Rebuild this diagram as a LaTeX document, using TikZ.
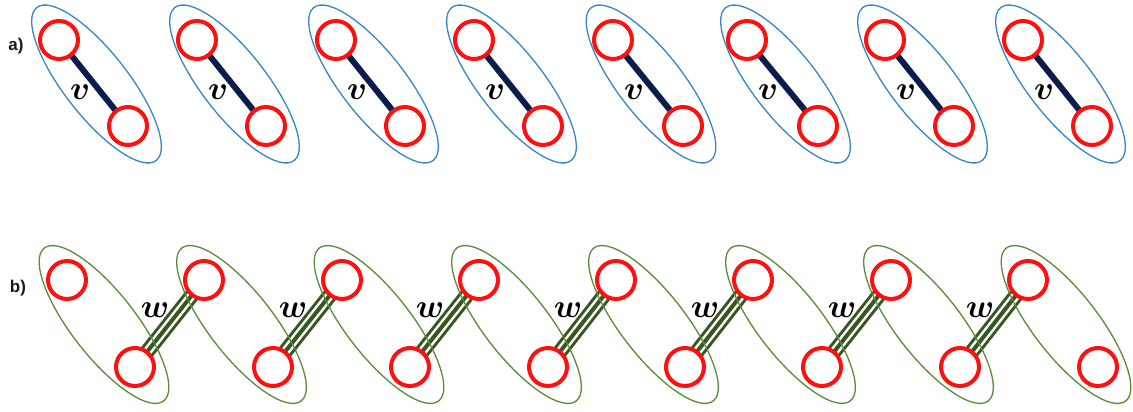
\RequirePackage{fix-cm}
\documentclass[tikz,border=0pt]{standalone}
\usepackage{fontspec}
\newfontfamily\labfont{Liberation Sans}
\usetikzlibrary{calc}
\definecolor{vred}{HTML}{FF1010}
\definecolor{eblue}{HTML}{3586C8}
\definecolor{egreen}{HTML}{5A8A3A}
\definecolor{wgreen}{HTML}{375623}
\definecolor{vnavy}{HTML}{0C1D4D}
\pgfdeclarelayer{bg}
\pgfdeclarelayer{mid}
\pgfsetlayers{bg,mid,main}
\tikzset{
  vert/.style={circle,draw=vred,line width=4pt,fill=white,minimum size=38pt,inner sep=0pt},
  vedge/.style={draw=vnavy,line width=6pt},
  wout/.style={draw=wgreen,line width=15pt},
  wgap/.style={draw=white,line width=9pt},
  win/.style={draw=wgreen,line width=4pt},
  aell/.style={draw=eblue,line width=1.3pt},
  bell/.style={draw=egreen,line width=1.3pt},
  lab/.style={inner sep=0pt,font=\fontsize{33}{33}\selectfont\boldmath},
  rowlab/.style={inner sep=0pt,font=\labfont\bfseries\fontsize{17}{17}\selectfont,text=black!90}
}
\begin{document}
\begin{tikzpicture}[x=1pt,y=-1pt]
\useasboundingbox (0,0) rectangle (1133,412);
% row a
\node[rowlab] (la) at (16,46) {a)};
\foreach \t/\b [count=\i] in {59/128,197/266,336/405,474/543,613/683,747/818,885/954,1023/1092}{
  \node[vert] (at\i) at (\t,40) {};
  \node[vert] (ab\i) at (\b,126) {};
  \begin{pgfonlayer}{mid}
    \coordinate (ac\i) at ($(at\i)!0.5!(ab\i)+(3,1)$);
    \draw[aell,rotate around={-52:(ac\i)}] (ac\i) ellipse [x radius=97,y radius=32];
  \end{pgfonlayer}
  \begin{pgfonlayer}{bg}
    \draw[vedge] (at\i.center) -- (ab\i.center);
  \end{pgfonlayer}
  \node[lab] (v\i) at ($(at\i)+(21,52)$) {$v$};
}
% row b
\node[rowlab] (lb) at (18,288) {b)};
\foreach \t/\b [count=\i] in {67/135,204/273,342/410,479/548,616/685,753/822,891/960,1028/1098}{
  \node[vert] (bt\i) at (\t,280) {};
  \node[vert] (bb\i) at (\b,367) {};
  \begin{pgfonlayer}{mid}
    \coordinate (bc\i) at ($(bt\i)!0.5!(bb\i)+(3,1)$);
    \draw[bell,rotate around={-52:(bc\i)}] (bc\i) ellipse [x radius=97,y radius=32];
  \end{pgfonlayer}
}
\foreach \i [evaluate=\i as \j using int(\i+1)] in {1,...,7}{
  \begin{pgfonlayer}{bg}
    \draw[wout] (bb\i.center) -- (bt\j.center);
    \draw[wgap] (bb\i.center) -- (bt\j.center);
    \draw[win] (bb\i.center) -- (bt\j.center);
  \end{pgfonlayer}
  \node[lab] (w\i) at ($(bb\i)+(20,-57)$) {$w$};
}
\end{tikzpicture}
\end{document}
